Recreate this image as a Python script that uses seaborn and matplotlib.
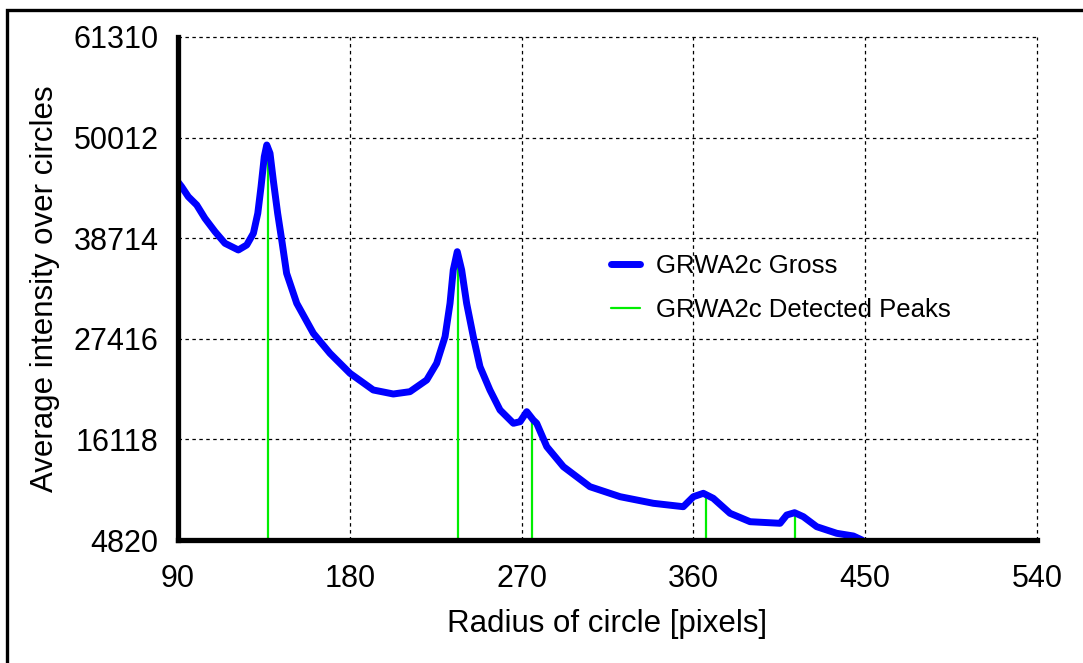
import matplotlib
matplotlib.use("Agg")
import matplotlib.pyplot as plt
import seaborn as sns
import pandas as pd
from matplotlib.lines import Line2D
from matplotlib.patches import Rectangle

# ---- data ----
radius = [90.0, 91.9, 95.4, 99.8, 104.1, 109.4, 114.6, 121.6, 126.0, 129.5,
          131.8, 133.5, 135.2, 136.5, 138.2, 139.9, 142.2, 144.6, 146.9, 152.2,
          160.9, 169.6, 180.1, 192.3, 202.8, 211.5, 220.3, 225.5, 229.9, 232.5,
          234.2, 236.3, 238.6, 241.2, 244.7, 248.2, 253.4, 258.7, 265.7, 269.2,
          272.7, 276.1, 277.9, 283.2, 291.9, 305.8, 321.6, 339.0, 354.7, 360.0,
          365.2, 370.4, 379.2, 389.7, 405.4, 408.9, 413.0, 417.6, 424.6, 435.1,
          443.8, 448.3]
intensity = [45027, 44499, 43376, 42444, 40950, 39446, 38142, 37390, 37951, 39265,
             41512, 44499, 47869, 49182, 48250, 45252, 41512, 38142, 34773, 31404,
             28034, 25788, 23542, 21667, 21217, 21476, 22790, 24665, 27653, 31404,
             35144, 37199, 35144, 31404, 27653, 24283, 21667, 19420, 17927, 18107,
             19230, 18297, 17927, 15299, 13052, 10806, 9683, 8942, 8560, 9683,
             10065, 9503, 7819, 6875, 6696, 7628, 7886, 7437, 6314, 5572,
             5269, 4820]
peak_x = [137.0, 236.5, 275.6, 366.6, 413.2]
peak_y = [48600, 37000, 18700, 9900, 7800]
x_ticks = [90, 180, 270, 360, 450, 540]
y_ticks = [4820, 16118, 27416, 38714, 50012, 61310]
series_labels = ["GRWA2c Gross", "GRWA2c Detected Peaks"]
x_label = "Radius of circle [pixels]"
y_label = "Average intensity over circles"

sns.set_style("white")
plt.rcParams['font.family'] = ['Liberation Sans', 'DejaVu Sans']
plt.rcParams['lines.scale_dashes'] = False
plt.rcParams['text.color'] = 'black'
plt.rcParams['axes.labelcolor'] = 'black'

fig = plt.figure(figsize=(10.83, 6.63), dpi=100)
ax = fig.add_axes([178/1083, 1-540/663, (1037-178)/1083, (540-37)/663])

df = pd.DataFrame({"radius": radius, "intensity": intensity})

ax.vlines(peak_x, y_ticks[0], peak_y, colors="#00ee00", linewidth=1.6, zorder=3)
sns.lineplot(data=df, x="radius", y="intensity", ax=ax, color="#0000ff",
             linewidth=5.0, zorder=4, sort=False, estimator=None)
for ln in ax.lines:
    ln.set_solid_joinstyle("round")
    ln.set_solid_capstyle("round")

ax.set_xlim(90, 540)
ax.set_ylim(4820, 61310)
ax.set_xticks(x_ticks)
ax.set_yticks(y_ticks)
ax.set_xticklabels([str(v) for v in x_ticks])
ax.set_yticklabels([str(v) for v in y_ticks])

ax.grid(True, color="black", linestyle=(0, (2.5, 2.5)), linewidth=0.9, zorder=1)
ax.set_axisbelow(True)
for gl in ax.get_xgridlines() + ax.get_ygridlines():
    gl.set_clip_on(False)

for s in ["top", "right"]:
    ax.spines[s].set_visible(False)
for s in ["left", "bottom"]:
    ax.spines[s].set_linewidth(3.8)
    ax.spines[s].set_color("black")
    ax.spines[s].set_zorder(5)

ax.tick_params(axis="both", which="major", direction="out", length=6, width=3.2,
               color="black", labelsize=22, labelcolor="black")
ax.tick_params(axis="x", pad=11)
ax.tick_params(axis="y", pad=8)

ax.set_xlabel(x_label, fontsize=22.5, labelpad=11, color="black")
ax.set_ylabel(y_label, fontsize=22.5, labelpad=10, color="black")

handles = [Line2D([0], [0], color="#0000ff", linewidth=5.0),
           Line2D([0], [0], color="#00ee00", linewidth=1.6)]
leg = ax.legend(handles, series_labels, loc="upper left",
                bbox_to_anchor=(601/1083, 1-244/663), bbox_transform=fig.transFigure,
                frameon=False, fontsize=18.5, handlelength=1.1, handletextpad=0.66,
                labelspacing=0.78, borderaxespad=0)
for t in leg.get_texts():
    t.set_color("black")

# figure frame
fig.patches.append(Rectangle((7/1083, -0.05), 1.1, 1.05 - 10/663, transform=fig.transFigure,
                             fill=False, edgecolor="black", linewidth=2.4, zorder=10))

fig.savefig("out.png", dpi=100, facecolor="white")
